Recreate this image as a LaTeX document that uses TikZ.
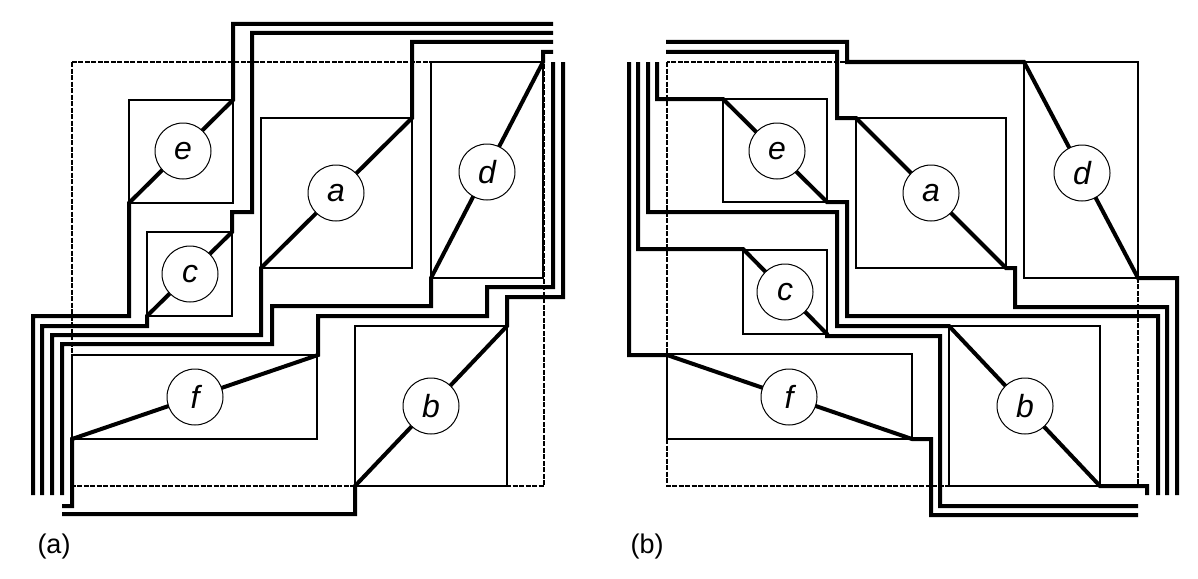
\documentclass[tikz,border=0pt]{standalone}
\usepackage{fontspec}
\setmainfont{Liberation Sans}
\begin{document}
\begin{tikzpicture}[x=1pt,y=-1pt,
  wire/.style={line width=4pt, line join=miter, line cap=butt},
  box/.style={line width=1.2pt},
  frame/.style={line width=1.2pt, dash pattern=on 5pt off 1.5pt},
  cell/.style={circle, draw, line width=1pt, fill=white, minimum size=56pt, inner sep=0pt,
    font=\fontsize{32}{34}\selectfont\itshape},
  tag/.style={font=\fontsize{27}{29}\selectfont}]
\useasboundingbox (0,0) rectangle (1198,578);

% ---------------- panel (a) ----------------
\draw[frame] (72,62) rectangle (544,486);
\draw[box] (129,100) rectangle (233,203);
\draw[box] (147,232) rectangle (232,316);
\draw[box] (261,118) rectangle (412,268);
\draw[box] (431,62) rectangle (543,278);
\draw[box] (72,355) rectangle (317,439);
\draw[box] (355,326) rectangle (507,486);

\draw[wire] (553,24) -- (233,24) -- (233,100) -- (129,203) -- (129,316) -- (33,316) -- (33,495);
\draw[wire] (553,33) -- (252,33) -- (252,212) -- (232,212) -- (232,232) -- (147,316) -- (147,326) -- (42,326) -- (42,495);
\draw[wire] (553,42) -- (412,42) -- (412,118) -- (261,268) -- (261,335) -- (52,335) -- (52,495);
\draw[wire] (553,52) -- (543,52) -- (543,62) -- (431,278) -- (431,306) -- (272,306) -- (272,344) -- (62,344) -- (62,495);
\draw[wire] (553,62) -- (553,287) -- (487,287) -- (487,316) -- (318,316) -- (318,355) -- (72,439) -- (72,506) -- (62,506);
\draw[wire] (563,62) -- (563,297) -- (507,297) -- (507,326) -- (355,486) -- (355,514) -- (62,514);

\node[cell] (ea) at (183,151) {e};
\node[cell] (ca) at (190,274) {c};
\node[cell] (aa) at (336,193) {a};
\node[cell] (da) at (487,172) {d};
\node[cell] (fa) at (195,397) {f};
\node[cell] (ba) at (431,406) {b};
\node[tag] (la) at (54,547) {(a)};

% ---------------- panel (b) ----------------
\draw[frame] (667,62) rectangle (1138,486);
\draw[box] (723,99) rectangle (827,202);
\draw[box] (743,250) rectangle (827,334);
\draw[box] (856,118) rectangle (1006,268);
\draw[box] (1024,62) rectangle (1138,278);
\draw[box] (667,354) rectangle (912,439);
\draw[box] (949,326) rectangle (1100,486);

\draw[wire] (666,42) -- (847,42) -- (847,62) -- (1024,62) -- (1138,278) -- (1177,278) -- (1177,495);
\draw[wire] (666,52) -- (837,52) -- (837,118) -- (856,118) -- (1006,268) -- (1015,268) -- (1015,307) -- (1167,307) -- (1167,495);
\draw[wire] (657,62) -- (657,99) -- (723,99) -- (827,202) -- (847,202) -- (847,316) -- (1158,316) -- (1158,495);
\draw[wire] (648,62) -- (648,212) -- (837,212) -- (837,326) -- (949,326) -- (1100,486) -- (1147,486) -- (1147,495);
\draw[wire] (638,62) -- (638,249) -- (743,249) -- (827,334) -- (827,336) -- (940,336) -- (940,506) -- (1138,506);
\draw[wire] (629,62) -- (629,355) -- (667,355) -- (912,439) -- (931,439) -- (931,515) -- (1138,515);

\node[cell] (eb) at (777,151) {e};
\node[cell] (cb) at (785,292) {c};
\node[cell] (ab) at (931,193) {a};
\node[cell] (db) at (1082,173) {d};
\node[cell] (fb) at (789,397) {f};
\node[cell] (bb) at (1025,406) {b};
\node[tag] (lb) at (647,547) {(b)};
\end{tikzpicture}
\end{document}
